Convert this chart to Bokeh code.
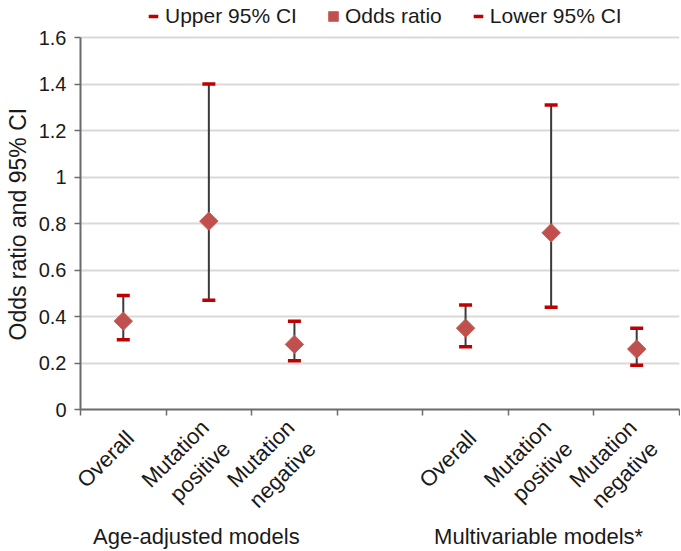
import math
from bokeh.plotting import figure
from bokeh.models import (ColumnDataSource, FixedTicker, Legend, LegendItem,
                          LinearAxis, Range1d)
from bokeh.embed import file_html
from bokeh.resources import INLINE

# ---- data ----
groups = ["Age-adjusted models", "Multivariable models*"]
subgroups = ["Overall", "Mutation\npositive", "Mutation\nnegative"]
odds_age = [0.38, 0.81, 0.28]
upper_age = [0.49, 1.40, 0.38]
lower_age = [0.30, 0.47, 0.21]
odds_multi = [0.35, 0.76, 0.26]
upper_multi = [0.45, 1.31, 0.35]
lower_multi = [0.27, 0.44, 0.19]
y_ticks = [0, 0.2, 0.4, 0.6, 0.8, 1.0, 1.2, 1.4, 1.6]
y_tick_labels = ["0", "0.2", "0.4", "0.6", "0.8", "1", "1.2", "1.4", "1.6"]

# category slots: 3 for group 1, one empty slot, 3 for group 2
x_age = [1, 2, 3]
x_multi = [5, 6, 7]
xs = x_age + x_multi
labels = subgroups + subgroups
odds = odds_age + odds_multi
upper = upper_age + upper_multi
lower = lower_age + lower_multi
group_centers = [sum(x_age) / 3, sum(x_multi) / 3]

src = ColumnDataSource(dict(x=xs, odds=odds, upper=upper, lower=lower))

FONT = "Liberation Sans"
TXT = "#1a1a1a"
AX = "#6b6b6b"

W, H = 680, 551
FRAME_BOTTOM = 409          # px from top
PLOT_TOP = 37               # px from top where 1.6 sits
y_max = y_ticks[-1]
y_end = y_max * FRAME_BOTTOM / (FRAME_BOTTOM - PLOT_TOP)   # headroom for legend

p = figure(width=W, height=H, output_backend="svg", toolbar_location=None,
           x_range=Range1d(0.5, 7.5), y_range=Range1d(0, y_end),
           min_border_left=80, min_border_right=1, min_border_top=0,
           min_border_bottom=H - FRAME_BOTTOM)
p.outline_line_color = None
p.background_fill_color = "white"

# x axis 1: tick marks at category boundaries
bounds_ticks = [0.5 + i for i in range(8)]
p.xaxis.ticker = FixedTicker(ticks=bounds_ticks)
p.xaxis.major_label_overrides = {t: "" for t in bounds_ticks}
p.xaxis.major_label_text_font_size = "1px"
p.xaxis.major_label_standoff = 0
p.xaxis.major_tick_in = 0
p.xaxis.major_tick_out = 6
p.xaxis.minor_tick_line_color = None
p.xaxis.axis_line_color = AX
p.xaxis.axis_line_width = 2
p.xaxis.major_tick_line_color = AX
p.xaxis.major_tick_line_width = 1.5

# x axis 2: category labels (rotated); slight nudge so the text end sits
# just right of the category centre, as in the original
cat_ticks = [x + 0.08 for x in xs]
cat_axis = LinearAxis(ticker=FixedTicker(ticks=cat_ticks),
                      major_label_overrides={t: l for t, l in zip(cat_ticks, labels)},
                      major_label_orientation=math.pi / 4,
                      major_label_text_font=FONT,
                      major_label_text_font_size="22px",
                      major_label_text_color=TXT,
                      major_label_text_line_height=1.2,
                      major_label_standoff=13,
                      axis_line_color=None, major_tick_line_color=None,
                      minor_tick_line_color=None)
p.add_layout(cat_axis, "below")

# x axis 3: group labels
grp_ticks = [c - 0.146 for c in group_centers]
grp_axis = LinearAxis(ticker=FixedTicker(ticks=grp_ticks),
                      major_label_overrides={t: g for t, g in zip(grp_ticks, groups)},
                      major_label_text_font=FONT,
                      major_label_text_font_size="22px",
                      major_label_text_color=TXT,
                      major_label_standoff=-19,
                      axis_line_color=None, major_tick_line_color=None,
                      minor_tick_line_color=None)
p.add_layout(grp_axis, "below")

# y axis
p.yaxis.ticker = FixedTicker(ticks=y_ticks)
p.yaxis.bounds = (0, y_max)
p.yaxis.major_label_overrides = {t: l for t, l in zip(y_ticks, y_tick_labels)}
p.yaxis.major_label_text_font = FONT
p.yaxis.major_label_text_font_size = "20px"
p.yaxis.major_label_text_color = TXT
p.yaxis.major_label_standoff = 8
p.yaxis.major_tick_in = 0
p.yaxis.major_tick_out = 6
p.yaxis.minor_tick_line_color = None
p.yaxis.axis_line_color = AX
p.yaxis.axis_line_width = 2
p.yaxis.major_tick_line_color = AX
p.yaxis.major_tick_line_width = 1.5
# trailing no-break spaces keep the title centred on the 0-1.6 span
p.yaxis.axis_label = "Odds ratio and 95% CI" + "\u00a0" * 6
p.yaxis.axis_label_text_font = FONT
p.yaxis.axis_label_text_font_size = "23px"
p.yaxis.axis_label_text_font_style = "normal"
p.yaxis.axis_label_text_color = TXT
p.yaxis.axis_label_standoff = 5

p.xgrid.grid_line_color = None
p.ygrid.ticker = FixedTicker(ticks=y_ticks)
p.ygrid.grid_line_color = "#d9d9d9"
p.ygrid.grid_line_width = 2

# error bars
p.segment(x0="x", y0="lower", x1="x", y1="upper", source=src,
          line_color="#3a3a3a", line_width=2)
r_up = p.scatter(x="x", y="upper", source=src, marker="dash", size=13,
                 line_color="#c00000", line_width=3.5)
r_lo = p.scatter(x="x", y="lower", source=src, marker="dash", size=13,
                 line_color="#c00000", line_width=3.5)
r_or = p.scatter(x="x", y="odds", source=src, marker="square", size=13,
                 angle=math.pi / 4, fill_color="#c0504d", line_color="#c65a57",
                 line_width=1)

legend = Legend(items=[LegendItem(label="Upper 95% CI", renderers=[r_up]),
                       LegendItem(label="Odds ratio", renderers=[r_or]),
                       LegendItem(label="Lower 95% CI", renderers=[r_lo])],
                orientation="horizontal", location=(61, FRAME_BOTTOM - 28),
                label_text_font=FONT, label_text_font_size="21px",
                label_text_color=TXT, border_line_color=None,
                background_fill_alpha=0, glyph_width=24, glyph_height=24,
                label_standoff=0, spacing=24, padding=0, margin=0,
                label_height=24)
p.add_layout(legend)

open("out.html", "w").write(file_html(p, INLINE))
